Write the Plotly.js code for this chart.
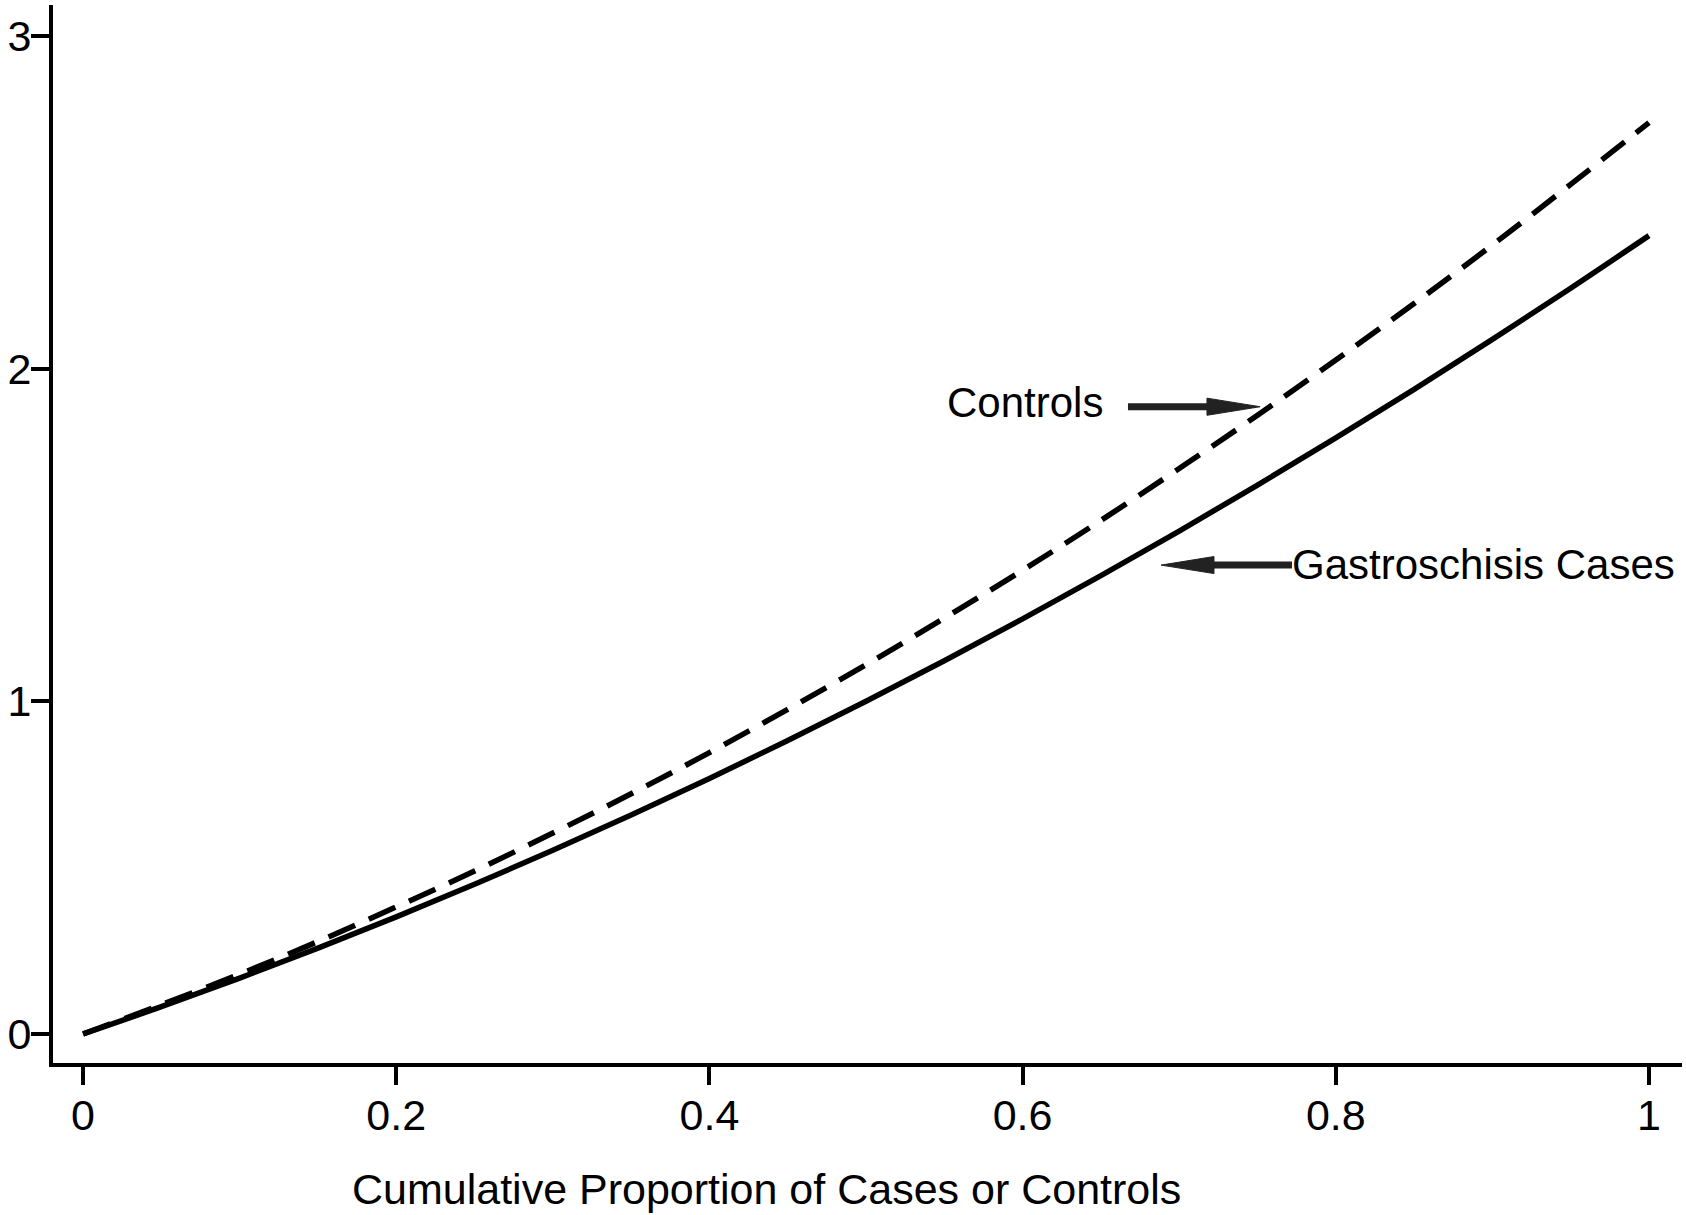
<!DOCTYPE html>
<html>
<head>
<meta charset="utf-8">
<script src="https://cdn.plot.ly/plotly-3.0.1.min.js"></script>
<style>html,body{margin:0;padding:0;background:#fff;}#chart{width:1686px;height:1215px;}</style>
</head>
<body>
<div id="chart"></div>
<script>
// Cumulative proportion (x) and curve values
const proportion = [0, 0.05, 0.1, 0.15, 0.2, 0.25, 0.3, 0.35, 0.4, 0.45, 0.5, 0.55, 0.6, 0.65, 0.7, 0.75, 0.8, 0.85, 0.9, 0.95, 1.0];
const casesValues = [0, 0.082, 0.168, 0.258, 0.352, 0.450, 0.552, 0.658, 0.768, 0.882, 1.000, 1.122, 1.248, 1.378, 1.512, 1.650, 1.792, 1.938, 2.088, 2.242, 2.400];
const controlsValues = [0, 0.088, 0.180, 0.278, 0.382, 0.490, 0.604, 0.722, 0.846, 0.976, 1.110, 1.250, 1.394, 1.544, 1.700, 1.860, 2.026, 2.196, 2.372, 2.554, 2.740];
const xTickVals = [0, 0.2, 0.4, 0.6, 0.8, 1];
const xTickText = ['0', '0.2', '0.4', '0.6', '0.8', '1'];
const yTickVals = [0, 1, 2, 3];
const yTickText = ['0', '1', '2', '3'];
const xTitle = 'Cumulative Proportion of Cases or Controls';
const labelControls = 'Controls';
const labelCases = 'Gastroschisis Cases';

const FONT = 'Liberation Sans, Arial, Helvetica, sans-serif';
const FS = 43;
const FS_LABEL = 42;

const traces = [
  {x: proportion, y: controlsValues, type: 'scatter', mode: 'lines', line: {color: '#000', width: 5.5, dash: '29px,15px', shape: 'spline'}, hoverinfo: 'skip'},
  {x: proportion, y: casesValues, type: 'scatter', mode: 'lines', line: {color: '#000', width: 5.5, shape: 'spline'}, hoverinfo: 'skip'}
];

const arrowColor = '#222';
const layout = {
  width: 1686, height: 1215,
  margin: {l: 53, r: 4, t: 5, b: 152},
  paper_bgcolor: '#fff', plot_bgcolor: '#fff',
  showlegend: false,
  font: {family: FONT, size: FS, color: '#000'},
  xaxis: {
    range: [-0.0192, 1.0211], showgrid: false, zeroline: false,
    showline: true, linecolor: '#000', linewidth: 4,
    ticks: 'outside', ticklen: 18, tickwidth: 4, tickcolor: '#000',
    tickvals: xTickVals, ticktext: xTickText, ticklabelstandoff: -7,
    tickfont: {family: FONT, size: FS, color: '#000'}
  },
  yaxis: {
    range: [-0.0873, 3.0934], showgrid: false, zeroline: false,
    showline: true, linecolor: '#000', linewidth: 4,
    ticks: 'outside', ticklen: 18, tickwidth: 4, tickcolor: '#000',
    tickvals: yTickVals, ticktext: yTickText, ticklabelstandoff: -9,
    tickfont: {family: FONT, size: FS, color: '#000'}
  },
  annotations: [
    {text: xTitle, xref: 'paper', yref: 'paper', x: 0.4377, y: -0.1193, xanchor: 'center', yanchor: 'middle', showarrow: false, font: {family: FONT, size: FS, color: '#000'}},
    {text: labelControls, xref: 'paper', yref: 'paper', x: 0.6458, y: 0.624, xanchor: 'right', yanchor: 'middle', showarrow: false, font: {family: FONT, size: FS_LABEL, color: '#000'}},
    {text: labelCases, xref: 'paper', yref: 'paper', x: 0.7594, y: 0.4716, xanchor: 'left', yanchor: 'middle', showarrow: false, font: {family: FONT, size: FS_LABEL, color: '#000'}}
  ],
  shapes: [
    {type: 'line', xref: 'paper', yref: 'paper', x0: 0.6599, x1: 0.7133, y0: 0.6203, y1: 0.6203, line: {color: arrowColor, width: 7}},
    {type: 'path', xref: 'paper', yref: 'paper', path: 'M 0.7410 0.6203 L 0.7084 0.6284 L 0.7084 0.6122 Z', fillcolor: arrowColor, line: {color: arrowColor, width: 1}},
    {type: 'line', xref: 'paper', yref: 'paper', x0: 0.7084, x1: 0.7606, y0: 0.4706, y1: 0.4706, line: {color: arrowColor, width: 7}},
    {type: 'path', xref: 'paper', yref: 'paper', path: 'M 0.6802 0.4706 L 0.7127 0.4787 L 0.7127 0.4626 Z', fillcolor: arrowColor, line: {color: arrowColor, width: 1}}
  ]
};

Plotly.newPlot('chart', traces, layout, {displayModeBar: false, staticPlot: true});
</script>
</body>
</html>
